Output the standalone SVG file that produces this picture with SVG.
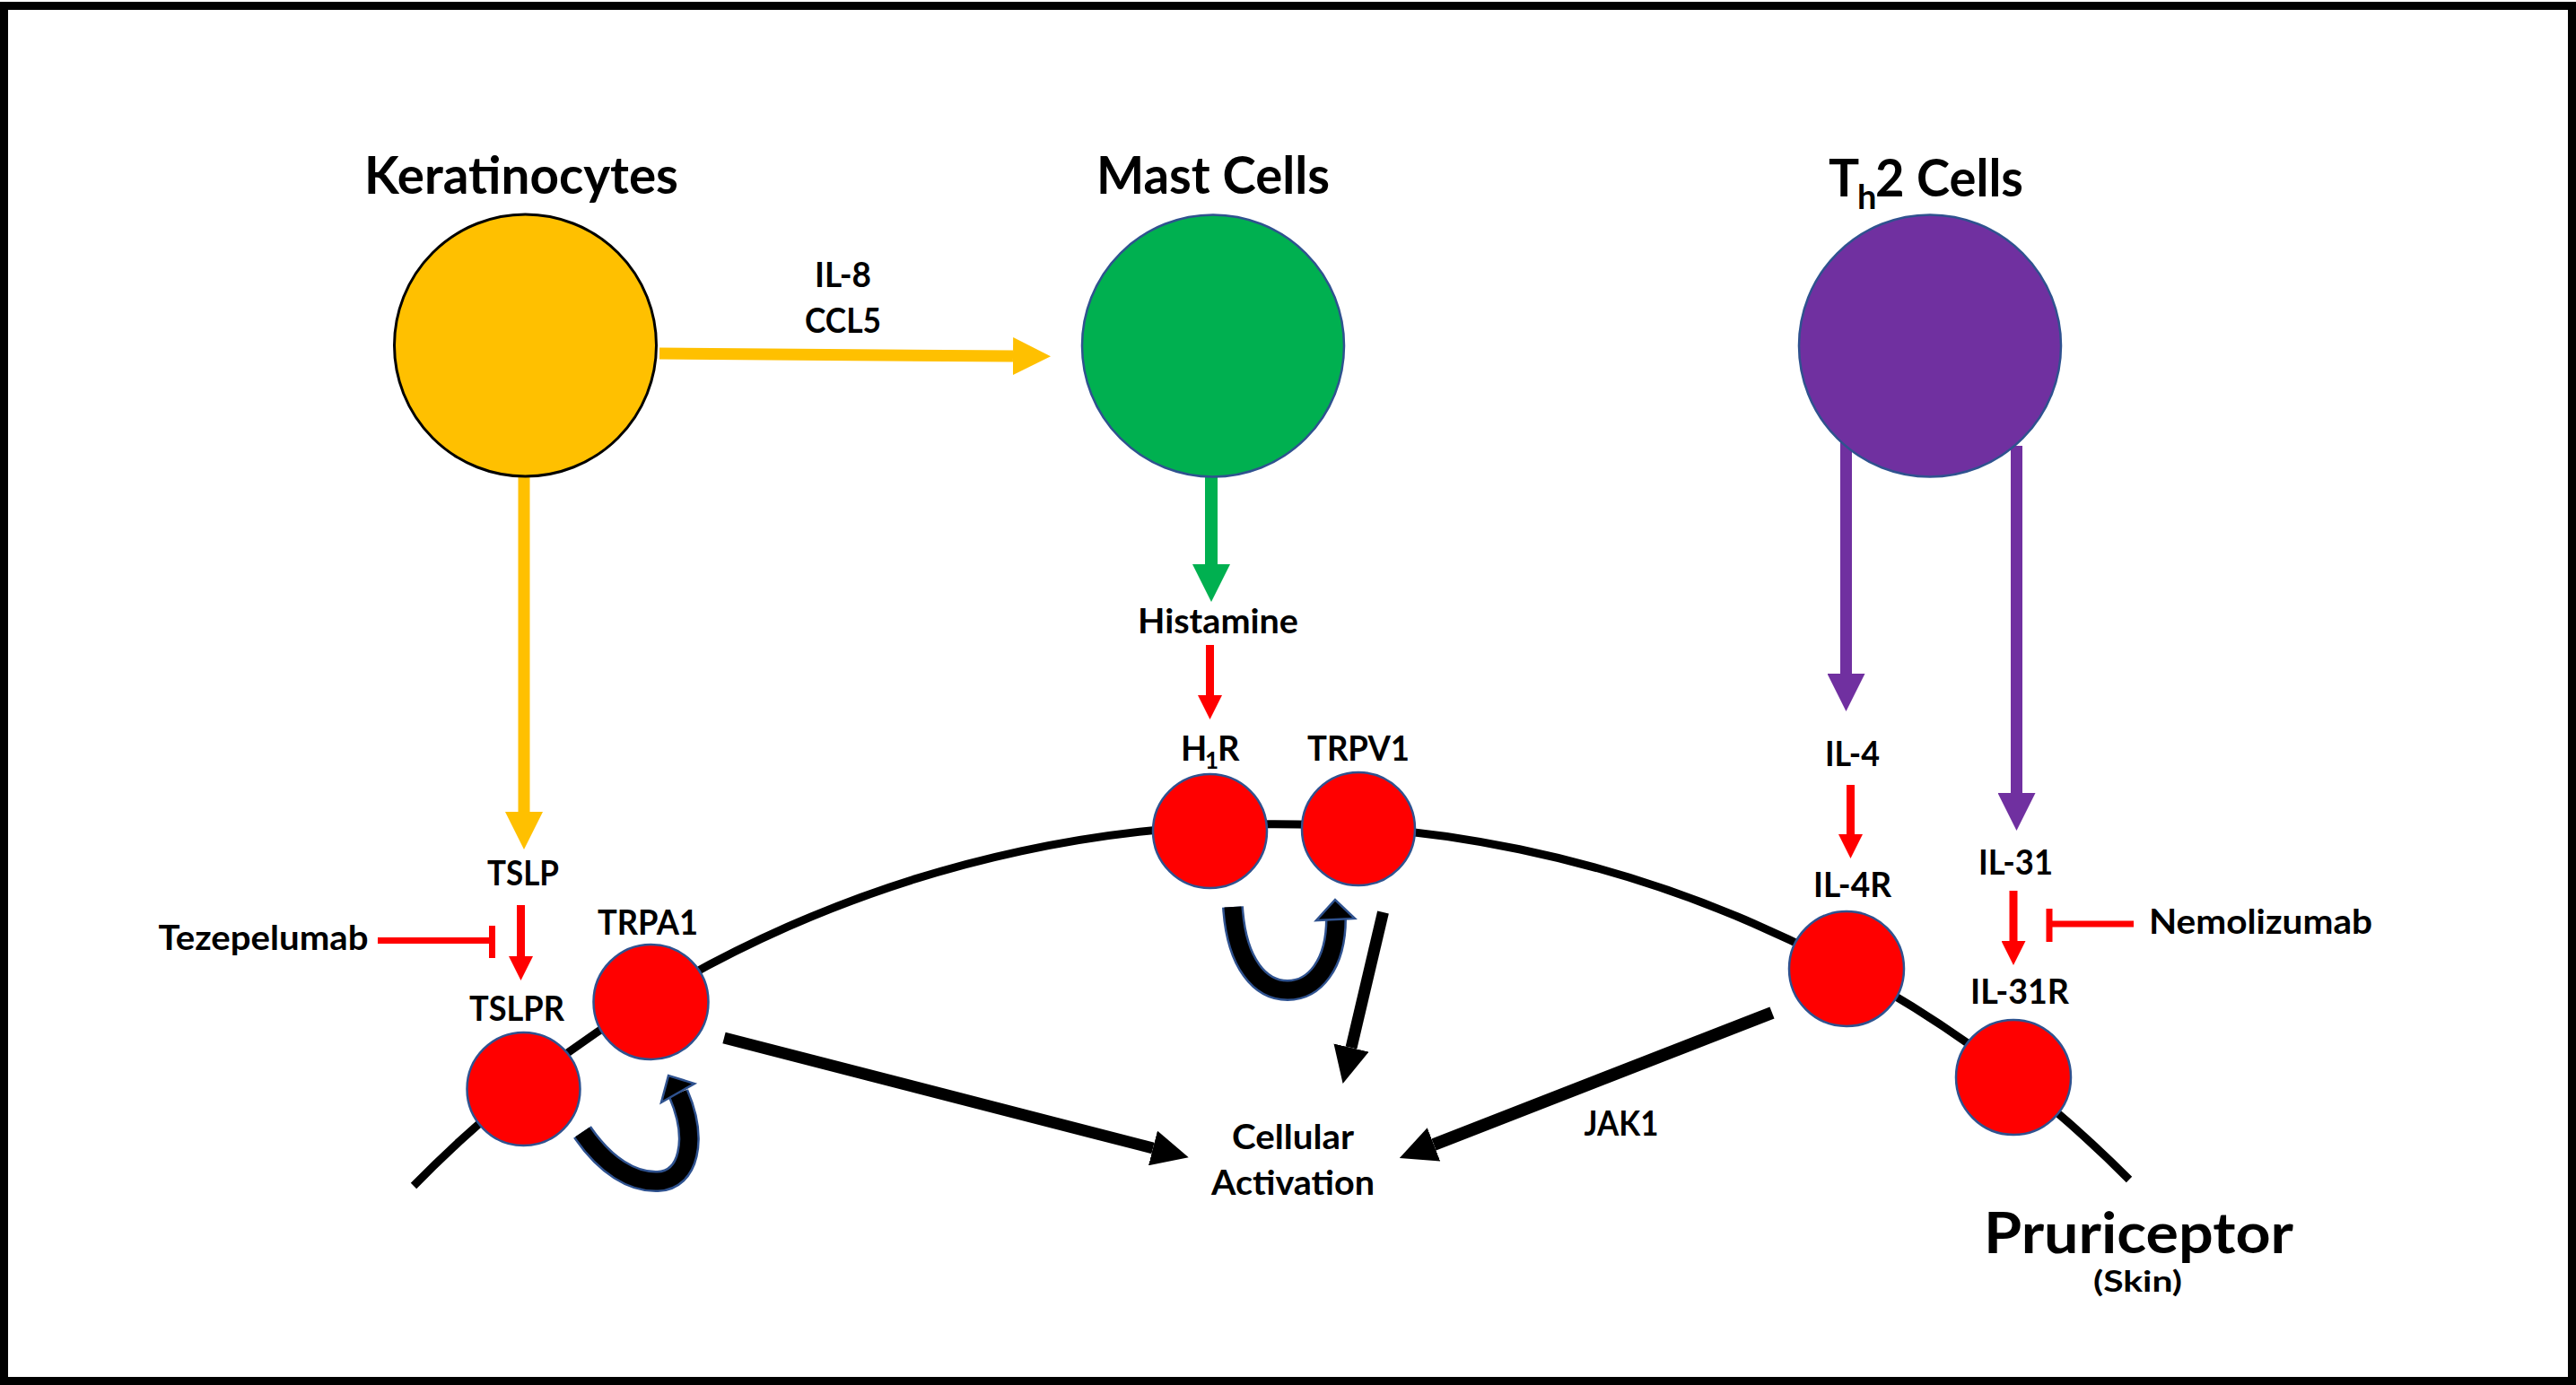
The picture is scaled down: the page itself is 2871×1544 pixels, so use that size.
<svg xmlns="http://www.w3.org/2000/svg" width="2871" height="1544" viewBox="0 0 2871 1544">
<style>
text{font-family:Lato,"Open Sans","Liberation Sans",sans-serif;font-weight:700;fill:#000}
.lbl{font-size:38px;text-anchor:middle}
.ttl{font-size:57px;text-anchor:middle}
.rec{fill:#FF0000;stroke:#2F528F;stroke-width:2.5}
.red{stroke:#FF0000;stroke-width:9;fill:none}
.inh{stroke:#FF0000;stroke-width:7;fill:none}
.blk{stroke:#000;fill:none}
.uo{stroke:#2F528F;stroke-width:24;fill:none}
.ui{stroke:#000;stroke-width:19;fill:none}
.uh{fill:#000;stroke:#2F528F;stroke-width:2.5;stroke-linejoin:miter}
</style>
<defs>
<marker id="hRed" markerUnits="userSpaceOnUse" viewBox="0 0 27 27" refX="0" refY="13.5" markerWidth="27" markerHeight="27" orient="auto"><path d="M0 0L27 13.5L0 27z" fill="#FF0000"/></marker>
<marker id="hYel" markerUnits="userSpaceOnUse" viewBox="0 0 42 42" refX="0" refY="21" markerWidth="42" markerHeight="42" orient="auto"><path d="M0 0L42 21L0 42z" fill="#FFC000"/></marker>
<marker id="hGrn" markerUnits="userSpaceOnUse" viewBox="0 0 42 42" refX="0" refY="21" markerWidth="42" markerHeight="42" orient="auto"><path d="M0 0L42 21L0 42z" fill="#00B050"/></marker>
<marker id="hPur" markerUnits="userSpaceOnUse" viewBox="0 0 42 42" refX="0" refY="21" markerWidth="42" markerHeight="42" orient="auto"><path d="M0 0L42 21L0 42z" fill="#7030A0"/></marker>
<marker id="hBlk" markerUnits="userSpaceOnUse" viewBox="0 0 41 40" refX="0" refY="20" markerWidth="41" markerHeight="40" orient="auto"><path d="M0 0L41 20L0 40z" fill="#000"/></marker>
</defs>
<rect x="0" y="0" width="2871" height="1544" fill="#fff"/>
<rect x="4.5" y="6.5" width="2862" height="1533" fill="none" stroke="#000" stroke-width="9"/>

<g id="membrane">
<path d="M461 1322A1343 1343 0 0 1 2373 1315" class="blk" stroke-width="9"/>
</g>

<g id="connectors">
<path d="M735 394L1129 397" stroke="#FFC000" stroke-width="13" fill="none" marker-end="url(#hYel)"/>
<path d="M584 531V905" stroke="#FFC000" stroke-width="13" fill="none" marker-end="url(#hYel)"/>
<path d="M1350 531V629" stroke="#00B050" stroke-width="14" fill="none" marker-end="url(#hGrn)"/>
<path d="M2057.5 490V751" stroke="#7030A0" stroke-width="13" fill="none" marker-end="url(#hPur)"/>
<path d="M2247.5 497V884" stroke="#7030A0" stroke-width="13" fill="none" marker-end="url(#hPur)"/>
<path d="M580.5 1009V1066" class="red" marker-end="url(#hRed)"/>
<path d="M1348.5 719V775" class="red" marker-end="url(#hRed)"/>
<path d="M2062.5 875V930" class="red" marker-end="url(#hRed)"/>
<path d="M2244 993V1049" class="red" marker-end="url(#hRed)"/>
<path d="M421 1048.5H548.5M548.5 1032V1068" class="inh"/>
<path d="M2378 1030H2284M2284 1013V1050" class="inh"/>
<path d="M807 1157L1285 1280" class="blk" stroke-width="13" marker-end="url(#hBlk)"/>
<path d="M1541.5 1017L1506 1168" class="blk" stroke-width="13" marker-end="url(#hBlk)"/>
<path d="M1975 1129L1598 1276" class="blk" stroke-width="14" marker-end="url(#hBlk)"/>
<g id="uturn-tslpr">
<path d="M649 1262C675 1300 705 1318 733 1317C768 1316 778 1270 756 1219" class="uo"/>
<path d="M649 1262C675 1300 705 1318 733 1317C768 1316 778 1270 756 1219" class="ui"/>
<path d="M737 1229L745 1199L774 1208z" class="uh"/>
</g>
<g id="uturn-h1r">
<path d="M1374 1011C1378 1075 1405 1104 1435 1104C1465 1104 1489 1075 1489 1024" class="uo"/>
<path d="M1374 1011C1378 1075 1405 1104 1435 1104C1465 1104 1489 1075 1489 1024" class="ui"/>
<path d="M1467 1026L1488 1003L1510 1024z" class="uh"/>
</g>
</g>

<g id="keratinocytes">
<circle cx="585.5" cy="385" r="146" fill="#FFC000" stroke="#000" stroke-width="3"/>
<text class="ttl" x="581" y="216" textLength="350" lengthAdjust="spacingAndGlyphs">Keratinocytes</text>
</g>
<g id="mast-cells">
<circle cx="1352" cy="385.5" r="146" fill="#00B050" stroke="#2F528F" stroke-width="2.5"/>
<text class="ttl" x="1352" y="216" textLength="260" lengthAdjust="spacingAndGlyphs">Mast Cells</text>
</g>
<g id="th2-cells">
<circle cx="2151" cy="385.5" r="146" fill="#7030A0" stroke="#2F528F" stroke-width="2.5"/>
<text x="2038" y="219" font-size="57">T<tspan x="2070" y="233" font-size="38">h</tspan><tspan x="2090" y="219" textLength="165" lengthAdjust="spacingAndGlyphs">2 Cells</tspan></text>
</g>

<g id="il8-ccl5">
<text class="lbl" x="939.5" y="320" textLength="63" lengthAdjust="spacingAndGlyphs">IL-8</text>
<text class="lbl" x="939.5" y="371" textLength="85" lengthAdjust="spacingAndGlyphs">CCL5</text>
</g>
<g id="histamine"><text class="lbl" x="1357.5" y="706" textLength="179" lengthAdjust="spacingAndGlyphs">Histamine</text></g>
<g id="tslp"><text class="lbl" x="583" y="987" textLength="80" lengthAdjust="spacingAndGlyphs">TSLP</text></g>
<g id="tezepelumab"><text class="lbl" x="293.5" y="1059" textLength="234" lengthAdjust="spacingAndGlyphs">Tezepelumab</text></g>
<g id="il4"><text class="lbl" x="2064.5" y="854" textLength="61" lengthAdjust="spacingAndGlyphs">IL-4</text></g>
<g id="il31"><text class="lbl" x="2246.5" y="975" textLength="83" lengthAdjust="spacingAndGlyphs">IL-31</text></g>
<g id="nemolizumab"><text class="lbl" x="2519.5" y="1041" textLength="249" lengthAdjust="spacingAndGlyphs">Nemolizumab</text></g>

<g id="tslpr">
<circle class="rec" cx="583.5" cy="1214" r="63"/>
<text class="lbl" x="576" y="1138" textLength="106" lengthAdjust="spacingAndGlyphs">TSLPR</text>
</g>
<g id="trpa1">
<circle class="rec" cx="725.5" cy="1117" r="64"/>
<text class="lbl" x="722" y="1042" textLength="112" lengthAdjust="spacingAndGlyphs">TRPA1</text>
</g>
<g id="h1r">
<circle class="rec" cx="1348.5" cy="926.5" r="63.5"/>
<text x="1316" y="848" font-size="38">H<tspan x="1343" y="857" font-size="26">1</tspan><tspan x="1357" y="848">R</tspan></text>
</g>
<g id="trpv1">
<circle class="rec" cx="1514" cy="924" r="63"/>
<text class="lbl" x="1514" y="848" textLength="114" lengthAdjust="spacingAndGlyphs">TRPV1</text>
</g>
<g id="il4r">
<circle class="rec" cx="2058" cy="1080" r="64"/>
<text class="lbl" x="2064.5" y="1000" textLength="87" lengthAdjust="spacingAndGlyphs">IL-4R</text>
</g>
<g id="il31r">
<circle class="rec" cx="2244" cy="1201" r="64"/>
<text class="lbl" x="2251" y="1119" textLength="110" lengthAdjust="spacingAndGlyphs">IL-31R</text>
</g>
<g id="cellular-activation">
<text class="lbl" x="1441" y="1281" textLength="136" lengthAdjust="spacingAndGlyphs">Cellular</text>
<text class="lbl" x="1441" y="1332" textLength="182" lengthAdjust="spacingAndGlyphs">Activation</text>
</g>
<g id="jak1"><text class="lbl" x="1807" y="1266" textLength="83" lengthAdjust="spacingAndGlyphs">JAK1</text></g>
<g id="pruriceptor">
<text x="2383.5" y="1397" font-size="63" text-anchor="middle" textLength="345" lengthAdjust="spacingAndGlyphs">Pruriceptor</text>
<text x="2382.5" y="1440" font-size="33" text-anchor="middle" textLength="99" lengthAdjust="spacingAndGlyphs">(Skin)</text>
</g>
</svg>
